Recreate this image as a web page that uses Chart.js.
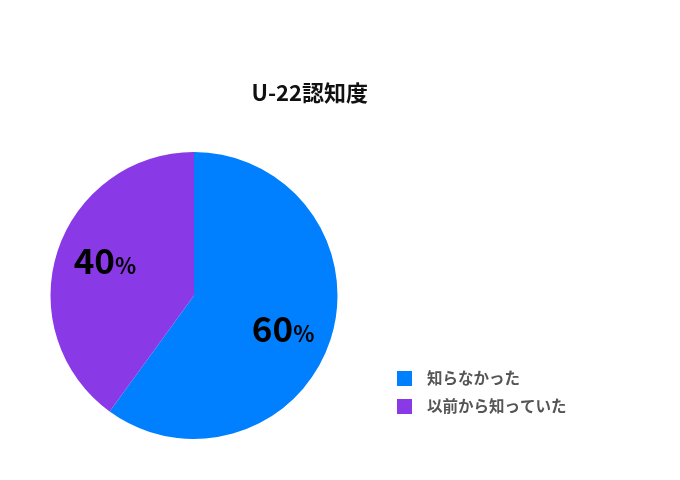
<!DOCTYPE html>
<html>
<head>
<meta charset="utf-8">
<script src="https://cdn.jsdelivr.net/npm/chart.js@4.4.0/dist/chart.umd.min.js"></script>
<style>
  html, body { margin: 0; padding: 0; background: #ffffff; }
  #wrap { width: 680px; height: 480px; }
</style>
</head>
<body>
<div id="wrap"><canvas id="c" width="680" height="480"></canvas></div>
<script>
const titleText = 'U-22認知度';
const categories = ['知らなかった', '以前から知っていた'];
const values = [60, 40];
const colors = ['#0080FF', '#8939E6'];

const FONT = '"Noto Sans CJK JP", "Noto Sans", sans-serif';

const sliceLabels = {
  id: 'sliceLabels',
  afterDatasetsDraw(chart) {
    const ctx = chart.ctx;
    const meta = chart.getDatasetMeta(0);
    const data = chart.data.datasets[0].data;
    const total = data.reduce((a, b) => a + b, 0);
    const angleShift = 3 * Math.PI / 180;
    meta.data.forEach((arc, i) => {
      const p = arc.getProps(['x', 'y', 'startAngle', 'endAngle', 'outerRadius'], true);
      const mid = (p.startAngle + p.endAngle) / 2 + angleShift;
      const r = p.outerRadius * 0.665;
      const cx = p.x + Math.cos(mid) * r;
      const cy = p.y + Math.sin(mid) * r;
      const num = String(Math.round(data[i] / total * 100));
      ctx.save();
      ctx.fillStyle = '#000000';
      ctx.textBaseline = 'alphabetic';
      ctx.textAlign = 'left';
      ctx.font = 'bold 35px ' + FONT;
      const w1 = ctx.measureText(num).width;
      ctx.font = 'bold 22px ' + FONT;
      const w2 = ctx.measureText('%').width;
      const x0 = cx - (w1 + w2) / 2;
      const base = cy + 12.5;
      ctx.font = 'bold 35px ' + FONT;
      ctx.fillText(num, x0, base);
      ctx.font = 'bold 22px ' + FONT;
      ctx.fillText('%', x0 + w1, base);
      ctx.restore();
    });
  }
};

const sideLegend = {
  id: 'sideLegend',
  afterDraw(chart) {
    const ctx = chart.ctx;
    const area = chart.chartArea;
    const ds = chart.data.datasets[0];
    const left = area.right + 29;
    const top = area.bottom - 68;
    ctx.save();
    chart.data.labels.forEach((lab, i) => {
      const y = top + i * 28;
      ctx.fillStyle = ds.backgroundColor[i];
      ctx.fillRect(left, y, 15, 15);
      ctx.fillStyle = '#555555';
      ctx.font = 'bold 15.5px ' + FONT;
      ctx.textBaseline = 'middle';
      ctx.textAlign = 'left';
      ctx.fillText(lab, left + 30, y + 7.5);
    });
    ctx.restore();
  }
};

new Chart(document.getElementById('c'), {
  type: 'pie',
  data: {
    labels: categories,
    datasets: [{
      data: values,
      backgroundColor: colors,
      borderWidth: 0
    }]
  },
  options: {
    responsive: false,
    animation: false,
    devicePixelRatio: 1,
    layout: { padding: { left: 20, right: 312, top: 0, bottom: 41 } },
    plugins: {
      legend: { display: false },
      tooltip: { enabled: false },
      title: {
        display: true,
        text: titleText,
        align: 'end',
        color: '#111111',
        font: { family: FONT, size: 22, weight: 'bold', lineHeight: 1.2 },
        padding: { top: 79, bottom: 46.6 }
      }
    }
  },
  plugins: [sliceLabels, sideLegend]
});
</script>
</body>
</html>
